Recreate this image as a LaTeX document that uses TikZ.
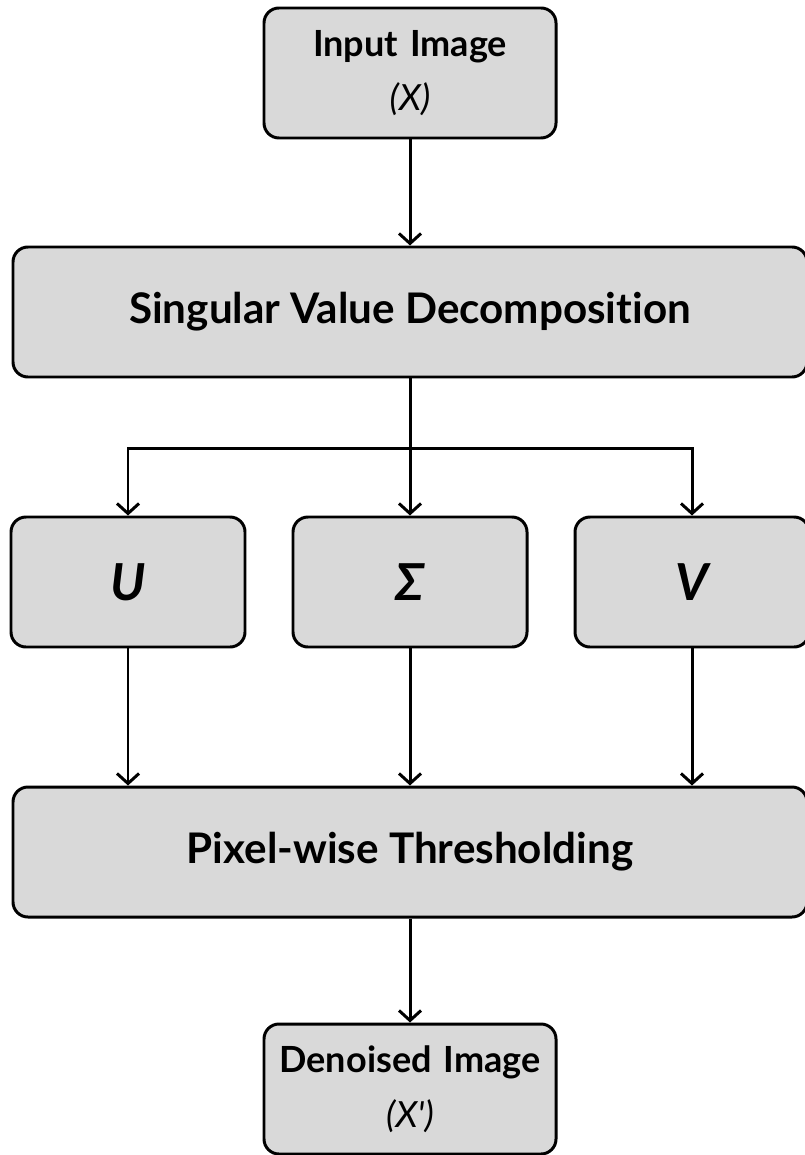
\documentclass[tikz,border=0pt]{standalone}
\usepackage{fontspec}
\setmainfont[Ligatures=NoCommon]{Lato}
\usepackage{tikz}
\usetikzlibrary{shapes.geometric, arrows.meta, positioning}
\definecolor{boxgray}{HTML}{D9D9D9}
\tikzstyle{block} = [rectangle, rounded corners=0.3cm, minimum width=5.84cm, minimum height=2.6cm, text centered, draw=black, line width=1.7pt, fill=boxgray, font=\fontsize{20.5}{26}\selectfont\bfseries]
\tikzstyle{wideblock} = [block, minimum width=15.88cm, font=\fontsize{24}{28}\selectfont\bfseries]
\tikzstyle{matrixblock} = [block, minimum width=4.68cm, font=\fontsize{29}{32}\selectfont\bfseries\itshape]
\tikzstyle{arrow} = [line width=1.7pt, -{Straight Barb[length=2mm, width=4.4mm]}]

\begin{document}
\begin{tikzpicture}[node distance=4.78cm and 5.64cm, on grid]
        \useasboundingbox (0,0) rectangle (16.08,-23.1);
        \node[block, text width=5.6cm] (input) at (8.2,-1.46) {Input Image\\[5pt] {\mdseries\itshape (X)}};
        \node[wideblock, below=of input] (svd) {Singular Value Decomposition};
        \node[matrixblock, below=5.4cm of svd] (sigma) {Σ};
        \node[matrixblock, left=of sigma] (u) {U};
        \node[matrixblock, right=of sigma] (v) {V};
        \node[wideblock, below=5.4cm of sigma] (threshold) {Pixel-wise Thresholding};
        \node[block, text width=5.6cm, below=4.74cm of threshold] (output) {Denoised Image\\[5pt] {\mdseries\itshape (X\textquotesingle)}};
        \coordinate[below=1.4cm of svd.south] (split);

        \draw[arrow] (input) -- (svd);
        \draw[line width=1.7pt] (svd) -- (split);
        \draw[arrow] (split) -| (u);
        \draw[arrow] (split) -- (sigma);
        \draw[arrow] (split) -| (v);
        \draw[arrow] (u) -- (u |- threshold.north);
        \draw[arrow] (sigma) -- (threshold);
        \draw[arrow] (v) -- (v |- threshold.north);
        \draw[arrow] (threshold) -- (output);
    \end{tikzpicture}
\end{document}
